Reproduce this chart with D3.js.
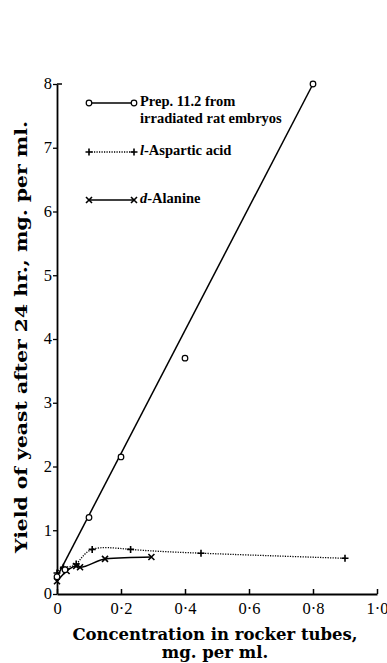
<!DOCTYPE html>
<html>
<head>
<meta charset="utf-8">
<script src="https://cdn.jsdelivr.net/npm/d3@7"></script>
<style>
	body { margin: 0; background: #fff; }
	svg { display: block; }
	.tick text { font-family: "Liberation Serif", serif; font-size: 16.5px; fill: #000; }
	.axis-title { font-family: "DejaVu Serif", serif; font-weight: bold; font-size: 16.5px; }
	.legend text { font-family: "Liberation Serif", serif; font-weight: bold; font-size: 14.5px; }
</style>
</head>
<body>
<div id="chart"></div>
<script>
// Data
const prepX = [0, 0.025, 0.1, 0.2, 0.4, 0.8];
const prepY = [0.27, 0.38, 1.2, 2.15, 3.7, 8.0];

const aspX = [0, 0.02, 0.06, 0.11, 0.23, 0.45, 0.9];
const aspY = [0.33, 0.42, 0.47, 0.7, 0.7, 0.64, 0.56];

const alaX = [0, 0.03, 0.06, 0.072, 0.15, 0.295];
const alaY = [0.2, 0.36, 0.44, 0.42, 0.55, 0.58];

const xTicks = [0, 0.2, 0.4, 0.6, 0.8, 1.0];
const yTicks = [0, 1, 2, 3, 4, 5, 6, 7, 8];

const legendItems = [
	{ lines: ["Prep. 11.2 from", "irradiated rat embryos"], marker: "circle", dash: null },
	{ lines: ["l-Aspartic acid"], marker: "plus", dash: "1.2,1.3" },
	{ lines: ["d-Alanine"], marker: "cross", dash: null }
];

const width = 387, height = 663;
const margin = { top: 84, right: 10, bottom: 69, left: 57 };

const svg = d3.select("#chart").append("svg")
	.attr("width", width).attr("height", height);

const x = d3.scaleLinear([0, 1], [margin.left, 377]);
const y = d3.scaleLinear([0, 8], [height - margin.bottom, margin.top]);

// Axes
const gx = svg.append("g")
	.attr("transform", `translate(0, ${y(0)})`)
	.call(d3.axisBottom(x).tickValues(xTicks).tickSizeInner(-5).tickSizeOuter(0)
		.tickFormat(d => d === 0 ? "0" : d3.format(".1f")(d).replace(".", "\u00b7")));
gx.select(".domain").attr("stroke-width", 1.8);
gx.selectAll(".tick line").attr("stroke-width", 1.5);
gx.selectAll(".tick text").attr("dy", "0.95em").attr("y", 4);

const gy = svg.append("g")
	.attr("transform", `translate(${x(0)}, 0)`)
	.call(d3.axisLeft(y).tickValues(yTicks).tickSize(4).tickSizeOuter(0));
gy.select(".domain").attr("stroke-width", 1.8);
gy.selectAll(".tick line").attr("stroke-width", 1.3);
gy.selectAll(".tick text").attr("x", -5).attr("dy", "0.3em");
// small inward cap at the top
svg.append("line")
	.attr("x1", x(0)).attr("x2", x(0) + 5)
	.attr("y1", y(8)).attr("y2", y(8))
	.attr("stroke", "#000").attr("stroke-width", 1.5);

// Axis titles
const xt = svg.append("text").attr("class", "axis-title")
	.attr("text-anchor", "middle")
	.attr("x", 215).attr("y", 640);
xt.append("tspan").attr("x", 215).text("Concentration in rocker tubes,");
xt.append("tspan").attr("x", 215).attr("dy", 18).text("mg. per ml.");

svg.append("text").attr("class", "axis-title")
	.attr("text-anchor", "middle")
	.attr("font-size", 18)
	.attr("textLength", 432).attr("lengthAdjust", "spacingAndGlyphs")
	.attr("transform", `translate(27, 337) rotate(-90)`)
	.text("Yield of yeast after 24 hr., mg. per ml.");

// Markers
function drawMarker(g, type, cx, cy) {
	if (type === "circle") {
		g.append("circle").attr("cx", cx).attr("cy", cy).attr("r", 2.8)
			.attr("fill", "#fff").attr("stroke", "#000").attr("stroke-width", 1.2);
	} else if (type === "plus") {
		g.append("path").attr("d", `M${cx - 3.5},${cy}H${cx + 3.5}M${cx},${cy - 3.5}V${cy + 3.5}`)
			.attr("stroke", "#000").attr("stroke-width", 1.6);
	} else {
		g.append("path").attr("d", `M${cx - 3},${cy - 3}L${cx + 3},${cy + 3}M${cx - 3},${cy + 3}L${cx + 3},${cy - 3}`)
			.attr("stroke", "#000").attr("stroke-width", 1.6);
	}
}

const plot = svg.append("g");

function drawSeries(pts, lineSource, marker, dash, curve) {
	const line = d3.line().x(d => x(d[0])).y(d => y(d[1])).curve(curve);
	const path = plot.append("path").datum(lineSource)
		.attr("d", line).attr("fill", "none")
		.attr("stroke", "#000").attr("stroke-width", dash ? 1.3 : 1.5);
	if (dash) path.attr("stroke-dasharray", dash);
	const mg = plot.append("g");
	pts.forEach(d => drawMarker(mg, marker, x(d[0]), y(d[1])));
}

const prepPts = prepX.map((d, i) => [d, prepY[i]]);
const aspPts = aspX.map((d, i) => [d, aspY[i]]);
const alaPts = alaX.map((d, i) => [d, alaY[i]]);

drawSeries(alaPts, alaPts, "cross", null, d3.curveMonotoneX);
drawSeries(aspPts, aspPts, "plus", "1.2,1.3", d3.curveNatural);
// the prep. series is drawn as one straight line from the first to the last point
drawSeries(prepPts, [prepPts[0], prepPts[prepPts.length - 1]], "circle", null, d3.curveLinear);

// Legend
const legend = svg.append("g").attr("class", "legend");
const legendY = [103, 152, 200];
legendItems.forEach((item, i) => {
	const ly = legendY[i];
	const l = legend.append("line")
		.attr("x1", 89).attr("x2", 133).attr("y1", ly).attr("y2", ly)
		.attr("stroke", "#000").attr("stroke-width", 1.3);
	if (item.dash) l.attr("stroke-dasharray", item.dash);
	drawMarker(legend, item.marker, 89, ly);
	drawMarker(legend, item.marker, 134, ly);
	const t = legend.append("text").attr("x", 140).attr("y", ly + 3);
	item.lines.forEach((s, j) => {
		const ts = t.append("tspan").attr("x", 140).attr("dy", j === 0 ? 0 : 17);
		if (i > 0 && j === 0) {
			const parts = s.split("-");
			ts.append("tspan").attr("font-style", "italic").text(parts[0]);
			ts.append("tspan").text("-" + parts.slice(1).join("-"));
		} else {
			ts.text(s);
		}
	});
});
</script>
</body>
</html>
